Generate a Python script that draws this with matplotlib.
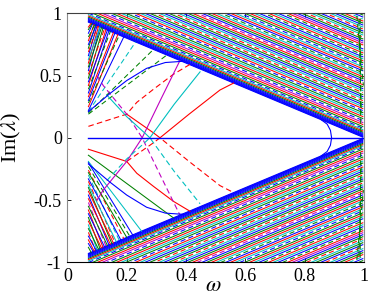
import numpy as np
import matplotlib
matplotlib.use("Agg")
from matplotlib import pyplot as plt

plt.rcParams.update({"font.family": "serif", "font.serif": ["Liberation Serif"],
                     "mathtext.fontset": "stix", "font.size": 13})

# matlab default colour order
cols = {'b': (0, 0, 1), 'g': (0, 0.5, 0), 'r': (1, 0, 0),
        'c': (0, 0.75, 0.75), 'm': (0.75, 0, 0.75)}
lw = 0.75

#  ---------------------------------  data  --------------------------------  #

# continuum: Im(lambda) of each band line at omega = 1 (band lines run with slope -1)
band_right = [0.000, 0.005, 0.010, 0.016, 0.023, 0.031, 0.040, 0.050, 0.061, 0.073,
              0.086, 0.102, 0.118, 0.134, 0.150, 0.166, 0.182, 0.198, 0.214, 0.230,
              0.246, 0.262, 0.278, 0.294, 0.310, 0.326, 0.342, 0.358, 0.374, 0.390,
              0.406, 0.422, 0.438, 0.454, 0.470, 0.486, 0.502, 0.518, 0.534, 0.550,
              0.566, 0.582, 0.598, 0.614, 0.630, 0.646, 0.662, 0.678, 0.694, 0.710,
              0.726, 0.742, 0.758, 0.774, 0.790, 0.806, 0.822, 0.838, 0.854, 0.870,
              0.886, 0.902, 0.918, 0.934, 0.950, 0.966, 0.982, 0.998]
band_cols = "bbbbb" + "bgrcbgrmbgrcgbrcbgrc" * 4
band_dash = "---------d---d----d----d---d----d----d---d----d---d----d---d----d---d"
band_w = [0.071, 0.995]

# fan of modes leaving the left edge (upper half); start Im at omega=0.071, end point on band edge
fan_up_y0 = [0.19, 0.20, 0.21, 0.22, 0.25, 0.28, 0.30, 0.33, 0.36, 0.39, 0.42, 0.45, 0.48, 0.51,
             0.54, 0.57, 0.60, 0.63, 0.66, 0.69, 0.72, 0.75, 0.78, 0.81, 0.84, 0.87, 0.89]
fan_up_w1 = [0.335, 0.29, 0.23, 0.19, 0.17, 0.175, 0.16, 0.155, 0.14, 0.145, 0.13, 0.135, 0.12, 0.125,
             0.11, 0.115, 0.105, 0.11, 0.10, 0.102, 0.095, 0.097, 0.09, 0.092, 0.085, 0.083, 0.08]
fan_up_c = "ggcbrgbrbgrbgrbgrcbrgbrgbgr"
fan_up_s = "dddssdsssdsssdsssssdsssdsss"

# fan of modes leaving the left edge (lower half)
fan_lo_y0 = [-0.14, -0.19, -0.20, -0.23, -0.26, -0.28, -0.30, -0.33, -0.35, -0.38, -0.40, -0.43, -0.46,
             -0.49, -0.52, -0.55, -0.58, -0.61, -0.64, -0.67, -0.70, -0.73, -0.76, -0.79, -0.82, -0.85, -0.88]
fan_lo_w1 = [0.357, 0.25, 0.22, 0.21, 0.19, 0.20, 0.175, 0.18, 0.16, 0.165, 0.15, 0.155, 0.14,
             0.145, 0.13, 0.135, 0.12, 0.125, 0.11, 0.115, 0.10, 0.105, 0.095, 0.097, 0.09, 0.087, 0.08]
fan_lo_c = "gcbgrgcbrcgrbrmgrbgrcgrbrbg"
fan_lo_s = "sssddsdsdsssssdsssssssdssss"

# isolated branches (solid curve, its mirror image is dashed)
red_w = [0.071, 0.20, 0.234, 0.29, 0.357, 0.413]
red_y = [-0.092, -0.19, -0.285, -0.39, -0.51, -0.59]
red2_w = [0.20, 0.29, 0.312, 0.41, 0.514, 0.56]
red2_y = [0.19, 0.04, 0.0, 0.19, 0.384, 0.44]
mag_w = [0.10, 0.121, 0.20, 0.252, 0.315, 0.379]
mag_y = [-0.50, -0.42, -0.19, 0.0, 0.31, 0.62]
cyan_w = [0.133, 0.20, 0.262, 0.278, 0.36, 0.447]
cyan_y = [0.344, 0.17, 0.036, 0.0, 0.27, 0.53]

# blue branches (solid in both halves)
blue_w = [0.071, 0.144, 0.20, 0.267, 0.33, 0.39]
blue_y = [0.21, 0.357, 0.46, 0.558, 0.605, 0.615]
bend_w = [0.855, 0.875, 0.886, 0.89, 0.886, 0.875, 0.855]
bend_y = [0.145, 0.11, 0.06, 0.0, -0.06, -0.11, -0.145]
zero_w = [0.071, 1.0]
zero_y = [0.0, 0.0]

# steep modes at the right edge
edge_w0 = [0.975, 0.982, 0.986]
edge_y0 = [0.98, 0.95, 0.96]
edge_w1 = [0.997, 0.99, 0.988]
edge_y1 = [0.42, 0.20, 0.03]


def style(s):
    return (0, (5, 3)) if s == 'd' else '-'


fig = plt.figure(figsize=(3.74, 2.97), dpi=100)
ax = fig.add_axes([0.180, 0.117, 0.794, 0.838])

#  ----------------------------------------  continuum  ----------------------------------------  #

nb = len(band_right)
for sgn in (1, -1):
    for i in range(nb)[::-1]:
        yR = band_right[i]
        yy = [sgn * (yR + 1 - band_w[0]), sgn * (yR + 1 - band_w[1])]
        ax.plot(band_w, yy, c=cols[band_cols[i % len(band_cols)]], lw=lw,
                ls=style(band_dash[i % len(band_dash)]))

#  -------------------------------------------  fans  ------------------------------------------  #

for i in range(len(fan_up_y0)):
    ax.plot([0.071, fan_up_w1[i]], [fan_up_y0[i], 1 - fan_up_w1[i]],
            c=cols[fan_up_c[i]], lw=lw, ls=style(fan_up_s[i]))
for i in range(len(fan_lo_y0)):
    ax.plot([0.071, fan_lo_w1[i]], [fan_lo_y0[i], -(1 - fan_lo_w1[i])],
            c=cols[fan_lo_c[i]], lw=lw, ls=style(fan_lo_s[i]))

for i in range(len(edge_w0)):
    for sgn in (1, -1):
        ax.plot([edge_w0[i], edge_w1[i]], [sgn * edge_y0[i], sgn * edge_y1[i]],
                c=cols['g'], lw=lw, ls=style('d'))

#  -------------------------------------  isolated branches  -----------------------------------  #

for w, y, c in ((red_w, red_y, 'r'), (red2_w, red2_y, 'r'), (mag_w, mag_y, 'm'), (cyan_w, cyan_y, 'c')):
    ax.plot(w, y, '-', c=cols[c], lw=0.8)
    ax.plot(w, -np.array(y), c=cols[c], lw=0.8, ls=style('d'))

ax.plot(blue_w, blue_y, '-', c=cols['b'], lw=0.8)
ax.plot(blue_w, -np.array(blue_y), '-', c=cols['b'], lw=0.8)
ax.plot(bend_w, bend_y, '-', c=cols['b'], lw=0.8)
ax.plot(zero_w, zero_y, '-', c=cols['b'], lw=1.0)

#  --------------------------------------  plot style etc  -------------------------------------  #

ax.set_xlim(0, 1)
ax.set_ylim(-1, 1)
ax.set_xticks([0, 0.2, 0.4, 0.6, 0.8, 1])
ax.set_xticklabels(['0', '0.2', '0.4', '0.6', '0.8', '1'])
ax.set_yticks([-1, -0.5, 0, 0.5, 1])
ax.set_yticklabels(['-1', '-0.5', '0', '0.5', '1'])
ax.tick_params(direction='in', top=True, right=True, length=3, width=0.6, pad=4)

ax.set_xlabel(r"$\omega$", fontsize=16)
ax.set_ylabel(r"Im($\lambda$)", fontsize=16)
ax.xaxis.set_label_coords(0.49, -0.058)
ax.yaxis.set_label_coords(-0.15, 0.5)

for side, c in (('left', '0.55'), ('right', '0.55'), ('top', '0.25'), ('bottom', 'black')):
    ax.spines[side].set_color(c)
    ax.spines[side].set_linewidth(0.8)

plt.savefig("out.png", dpi=100)
